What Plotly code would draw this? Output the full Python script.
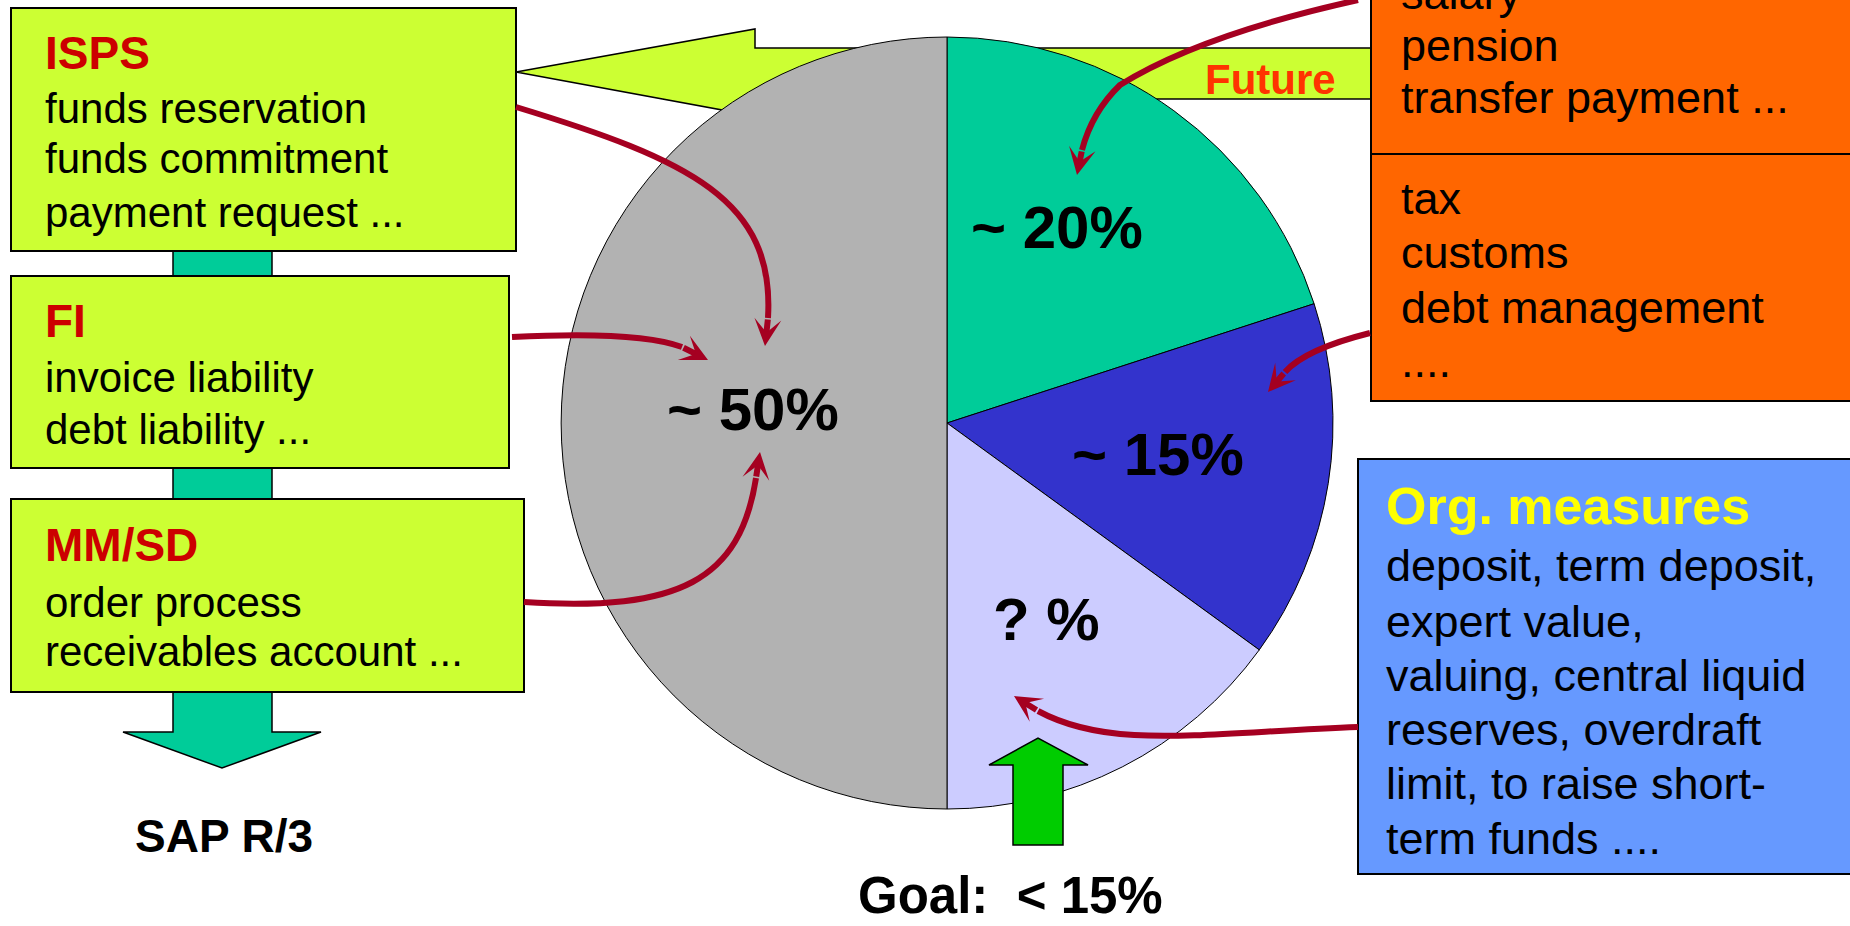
import plotly.graph_objects as go

W, H = 1850, 926
FONT = "Liberation Sans, Arial, sans-serif"

# ---------------- data ----------------
slice_labels = ["~ 20%", "~ 15%", "? %", "~ 50%"]
slice_values = [20, 15, 15, 50]
slice_colors = ["#00CC99", "#3333CC", "#CCCCFF", "#B2B2B2"]

module_titles = ["ISPS", "FI", "MM/SD"]
module_items = [
    ["funds reservation", "funds commitment", "payment request ..."],
    ["invoice liability", "debt liability ..."],
    ["order process", "receivables account ..."],
]
future_items = ["salary", "pension", "transfer payment ..."]
revenue_items = ["tax", "customs", "debt management", "...."]
org_title = "Org. measures"
org_items = ["deposit, term deposit,", "expert value,", "valuing, central liquid",
             "reserves, overdraft", "limit, to raise short-", "term funds ...."]
future_label = "Future"
sap_label = "SAP R/3"
goal_label = "Goal:&nbsp; < 15%"

# ---------------- layout geometry (pixels) ----------------
pie_cx, pie_cy, pie_r = 947, 423, 386
slice_label_pos = [(1057, 227), (1158, 454), (1046, 619), (753, 409)]

left_boxes = [(11, 8, 516, 251), (11, 276, 509, 468), (11, 499, 524, 692)]
title_y = [53, 321, 545]
items_y = [[108, 159, 212], [377, 429], [602, 651]]
left_text_x = 43

RED = "#A50021"
LIME = "#CCFF33"

fig = go.Figure()

fig.add_trace(go.Pie(
    values=slice_values, labels=slice_labels, sort=False, direction="clockwise",
    rotation=0, textinfo="none", hoverinfo="label",
    marker=dict(colors=slice_colors, line=dict(color="black", width=1)),
    domain=dict(x=[(pie_cx - pie_r) / W, (pie_cx + pie_r) / W],
                y=[(H - pie_cy - pie_r) / H, (H - pie_cy + pie_r) / H]),
    showlegend=False,
))

shapes = []
# teal flow arrow behind left boxes
shapes.append(dict(type="path", layer="below", xref="x", yref="y",
                   path="M173,240 L173,732 L123,732 L222,768 L321,732 L272,732 L272,240 Z",
                   fillcolor="#00CC99", line=dict(color="black", width=1.5)))
for (x0, y0, x1, y1) in left_boxes:
    shapes.append(dict(type="rect", layer="below", xref="x", yref="y",
                       x0=x0, y0=y0, x1=x1, y1=y1, fillcolor=LIME,
                       line=dict(color="black", width=2)))
# Future arrow
shapes.append(dict(type="path", layer="below", xref="x", yref="y",
                   path="M516,72 L755,29 L755,48 L1372,48 L1372,99 L755,99 L755,116 Z",
                   fillcolor=LIME, line=dict(color="black", width=1.5)))
# orange boxes
shapes.append(dict(type="rect", layer="below", xref="x", yref="y",
                   x0=1371, y0=-60, x1=1870, y1=154, fillcolor="#FF6600",
                   line=dict(color="black", width=2)))
shapes.append(dict(type="rect", layer="below", xref="x", yref="y",
                   x0=1371, y0=154, x1=1870, y1=401, fillcolor="#FF6600",
                   line=dict(color="black", width=2)))
# blue box
shapes.append(dict(type="rect", layer="below", xref="x", yref="y",
                   x0=1358, y0=459, x1=1870, y1=874, fillcolor="#6699FF",
                   line=dict(color="black", width=2)))
# green goal arrow
shapes.append(dict(type="path", layer="above", xref="x", yref="y",
                   path="M1013,845 L1013,765 L989,765 L1038,738 L1088,765 L1063,765 L1063,845 Z",
                   fillcolor="#00CC00", line=dict(color="black", width=1.5)))
# red curved arrows (bodies)
curves = [
    "M516,107 C690,160 775,200 768,318",
    "M512,337 C590,333 650,335 682,347",
    "M524,602 C680,612 740,580 756,478",
    "M1358,0 Q1200,35 1120,85 Q1092,112 1082,150",
    "M1370,333 C1330,343 1300,355 1285,372",
    "M1358,727 C1200,733 1110,750 1038,711",
]
for p in curves:
    shapes.append(dict(type="path", layer="above", xref="x", yref="y", path=p,
                       line=dict(color=RED, width=6)))

heads = [((765, 346), (768, 318)), ((708, 360), (682, 347)), ((760, 452), (756, 478)),
         ((1077, 175), (1082, 150)), ((1268, 392), (1285, 372)), ((1014, 696), (1038, 711))]

ann = []
def txt(x, y, s, size, color="black", bold=False, xanchor="left"):
    # positions given in pixels from the top-left; placed in paper coordinates
    ann.append(dict(x=x / W, y=(H - y) / H, xref="paper", yref="paper",
                    text=("<b>%s</b>" % s) if bold else s,
                    showarrow=False, xanchor=xanchor, yanchor="middle",
                    font=dict(family=FONT, size=size, color=color)))

for i, t in enumerate(module_titles):
    txt(left_text_x, title_y[i], t, 46, "#CC0000", True)
    for s, y in zip(module_items[i], items_y[i]):
        txt(left_text_x, y, s, 42)

for s, y in zip(future_items, [-7, 45, 97]):
    txt(1399, y, s, 45)
for s, y in zip(revenue_items, [198, 252, 307, 361]):
    txt(1399, y, s, 45)
txt(1384, 506, org_title, 52, "#FFFF00", True)
for s, y in zip(org_items, [566, 621, 675, 729, 783, 838]):
    txt(1384, y, s, 45)

txt(1270, 79, future_label, 42, "#FF3300", True, "center")
txt(224, 836, sap_label, 46, "black", True, "center")
txt(1010, 895, goal_label, 51, "black", True, "center")

for lab, (x, y) in zip(slice_labels, slice_label_pos):
    txt(x, y, lab, 60, "black", True, "center")

for (tip, tail) in heads:
    ann.append(dict(x=tip[0], y=tip[1], ax=tail[0], ay=tail[1], xref="x", yref="y",
                    axref="x", ayref="y", text="", showarrow=True, arrowhead=3,
                    arrowsize=0.75, arrowwidth=6, arrowcolor=RED, standoff=0))

fig.update_layout(
    width=W, height=H, margin=dict(l=0, r=0, t=0, b=0),
    paper_bgcolor="white", plot_bgcolor="white",
    xaxis=dict(range=[0, W], visible=False, fixedrange=True),
    yaxis=dict(range=[H, 0], visible=False, fixedrange=True),
    shapes=shapes, annotations=ann, showlegend=False,
)

fig.write_html("out.html")
